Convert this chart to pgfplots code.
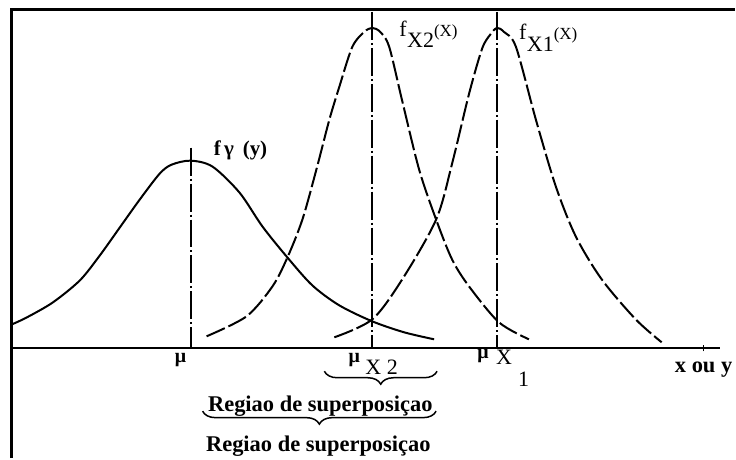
\documentclass[border=0pt]{standalone}
\usepackage{pgfplots}
\pgfplotsset{compat=1.18}
\usepackage{fontspec}
\setmainfont{Liberation Serif}
\usetikzlibrary{decorations.pathreplacing}

\newcommand\fbig{\fontsize{22.5bp}{26bp}\selectfont}
\newcommand\fmid{\fontsize{22bp}{25bp}\selectfont}
\newcommand\fsm{\fontsize{17bp}{20bp}\selectfont}

\begin{document}
\begin{tikzpicture}
\begin{axis}[
  x=1bp, y=1bp,
  xmin=0, xmax=736, ymin=-110, ymax=349,
  hide axis, clip=false, scale only axis,
]
\path (axis cs:0,-110) rectangle (axis cs:736,349);

% frame and horizontal axis
\draw[line width=3bp] (axis cs:12,-110) -- (axis cs:12,339) -- (axis cs:736,339);
\draw[line width=2bp] (axis cs:12,0) -- (axis cs:721,0);
\draw[line width=1.5bp] (axis cs:705,-3) -- (axis cs:705,3);

% density of Y (solid)
\addplot[black, line width=2bp, smooth] coordinates {
 (12,24) (27,31) (53,46) (80,68) (100,93) (120,121) (140,149) (160,175)
 (172,184) (191,188) (213,182) (240,156) (263,122) (288,91) (313,63)
 (340,43) (373,27) (405,16) (435,9)};

% density of X2 (dashed)
\addplot[black, line width=2bp, smooth, dash pattern=on 20bp off 4bp] coordinates {
 (207,12) (247,32) (273,62) (288,91) (303,129) (317,179) (330,229) (340,262)
 (353,302) (365,317) (373,321) (381,317) (390,302) (403,248) (420,179)
 (437,129) (453,89) (470,62) (500,26) (530,9)};

% density of X1 (dashed)
\addplot[black, line width=2bp, smooth, dash pattern=on 20bp off 4bp] coordinates {
 (335,11) (373,29) (403,69) (437,129) (453,185) (470,255) (483,300)
 (491,314) (498,321) (505,317) (517,302) (537,229) (557,162) (577,112)
 (603,69) (637,29) (663,6)};

% mean lines
\addplot[black, line width=1.8bp, dash pattern=on 28bp off 3bp on 2bp off 3bp] coordinates {(191,201) (191,0)};
\addplot[black, line width=1.8bp, dash pattern=on 28bp off 3bp on 2bp off 3bp] coordinates {(373,337) (373,0)};
\addplot[black, line width=1.8bp, dash pattern=on 28bp off 3bp on 2bp off 3bp] coordinates {(498,337) (498,0)};

% curve labels
\node[anchor=base west, inner sep=0] at (axis cs:214,193)
  {\fontsize{21bp}{24bp}\selectfont\bfseries f\,γ\, (y)};
\node[anchor=base west, inner sep=0] at (axis cs:400,312)
  {\fmid f\kern0.5bp\raisebox{-11bp}{X2}\fsm(X)};
\node[anchor=base west, inner sep=0] at (axis cs:520,309)
  {\fmid f\kern0.5bp\raisebox{-12bp}{X1}\fsm(X)};

% axis labels
\node[inner sep=0] at (axis cs:181,-12) {\fontsize{20bp}{22bp}\selectfont\bfseries μ};
\node[inner sep=0] at (axis cs:355,-12) {\fontsize{20bp}{22bp}\selectfont\bfseries μ};
\node[anchor=base west, inner sep=0] at (axis cs:366,-26) {\fmid X\ 2};
\node[inner sep=0] at (axis cs:484,-8) {\fontsize{20bp}{22bp}\selectfont\bfseries μ};
\node[anchor=base west, inner sep=0] at (axis cs:497,-16) {\fmid X};
\node[anchor=base west, inner sep=0] at (axis cs:519,-38) {\fmid 1};
\node[anchor=base east, inner sep=0] at (axis cs:734,-24) {\fbig\bfseries x ou y};

% overlap regions
\draw[line width=1.5bp, decorate, decoration={brace, amplitude=13bp}]
  (axis cs:438,-23) -- (axis cs:325,-23);
\node[anchor=base, inner sep=0] at (axis cs:321,-63) {\fbig\bfseries Regiao de superposiçao};
\draw[line width=1.5bp, decorate, decoration={brace, amplitude=13bp}]
  (axis cs:437,-63) -- (axis cs:203,-63);
\node[anchor=base, inner sep=0] at (axis cs:319,-103) {\fbig\bfseries Regiao de superposiçao};
\end{axis}
\end{tikzpicture}
\end{document}
